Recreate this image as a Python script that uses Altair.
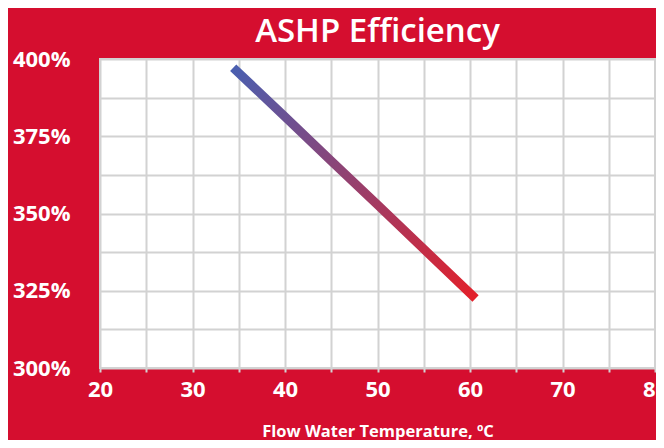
import altair as alt
import pandas as pd

temps = [34.4, 40, 45, 50, 55, 60.6]
efficiency = [397.2, 381.3, 367.0, 352.8, 338.5, 322.5]

df = pd.DataFrame({"temp": temps, "eff": efficiency})

BG = "#D50E2F"
GRID = "#D2D2D2"
FONT = "Open Sans"

x_vals = [20 + 5 * i for i in range(13)]
y_vals = [300 + 12.5 * i for i in range(9)]

line = alt.Chart(df).mark_line(
    strokeWidth=9,
    strokeCap="butt",
    color=alt.Gradient(
        gradient="linear",
        stops=[
            alt.GradientStop(color="#4A5FB0", offset=0),
            alt.GradientStop(color="#E3202A", offset=1),
        ],
        x1=0, y1=0, x2=1, y2=1,
    ),
).encode(
    x=alt.X(
        "temp:Q",
        scale=alt.Scale(domain=[20, 80], nice=False),
        axis=alt.Axis(
            values=x_vals,
            labelExpr="datum.value % 10 == 0 ? datum.label : ''",
            title="Flow Water Temperature, ºC",
            titlePadding=23,
            titleFontSize=16.5,
            titleFont=FONT,
            titleFontWeight="bold",
            titleColor="white",
            labelFontSize=22,
            labelFont=FONT,
            labelFontWeight="bold",
            labelColor="white",
            labelPadding=7,
            labelFlush=False,
            labelOverlap=False,
            tickColor=GRID,
            tickSize=4,
            tickWidth=2,
            gridColor=GRID,
            gridWidth=2,
            domain=False,
        ),
    ),
    y=alt.Y(
        "eff:Q",
        scale=alt.Scale(domain=[300, 400], nice=False, zero=False),
        axis=alt.Axis(
            values=y_vals,
            labelExpr="datum.value % 25 == 0 ? format(datum.value, 'd') + '%' : ''",
            title=None,
            labelFontSize=22,
            labelFont=FONT,
            labelFontWeight="bold",
            labelColor="white",
            labelPadding=30,
            labelFlush=False,
            labelOverlap=False,
            ticks=False,
            gridColor=GRID,
            gridWidth=2,
            domain=False,
        ),
    ),
)

chart = line.properties(
    width=555,
    height=309,
    background=BG,
    padding={"left": 92, "top": 51, "right": 1, "bottom": 72},
    autosize=alt.AutoSizeParams(type="none"),
    title=alt.TitleParams(
        "ASHP Efficiency",
        color="white",
        font=FONT,
        fontSize=33,
        fontWeight=600,
        anchor="middle",
        offset=-1,
    ),
).configure_view(
    fill="white",
    stroke=GRID,
    strokeWidth=2,
)

chart.save("out.html", embed_options={"renderer": "svg", "actions": False})
